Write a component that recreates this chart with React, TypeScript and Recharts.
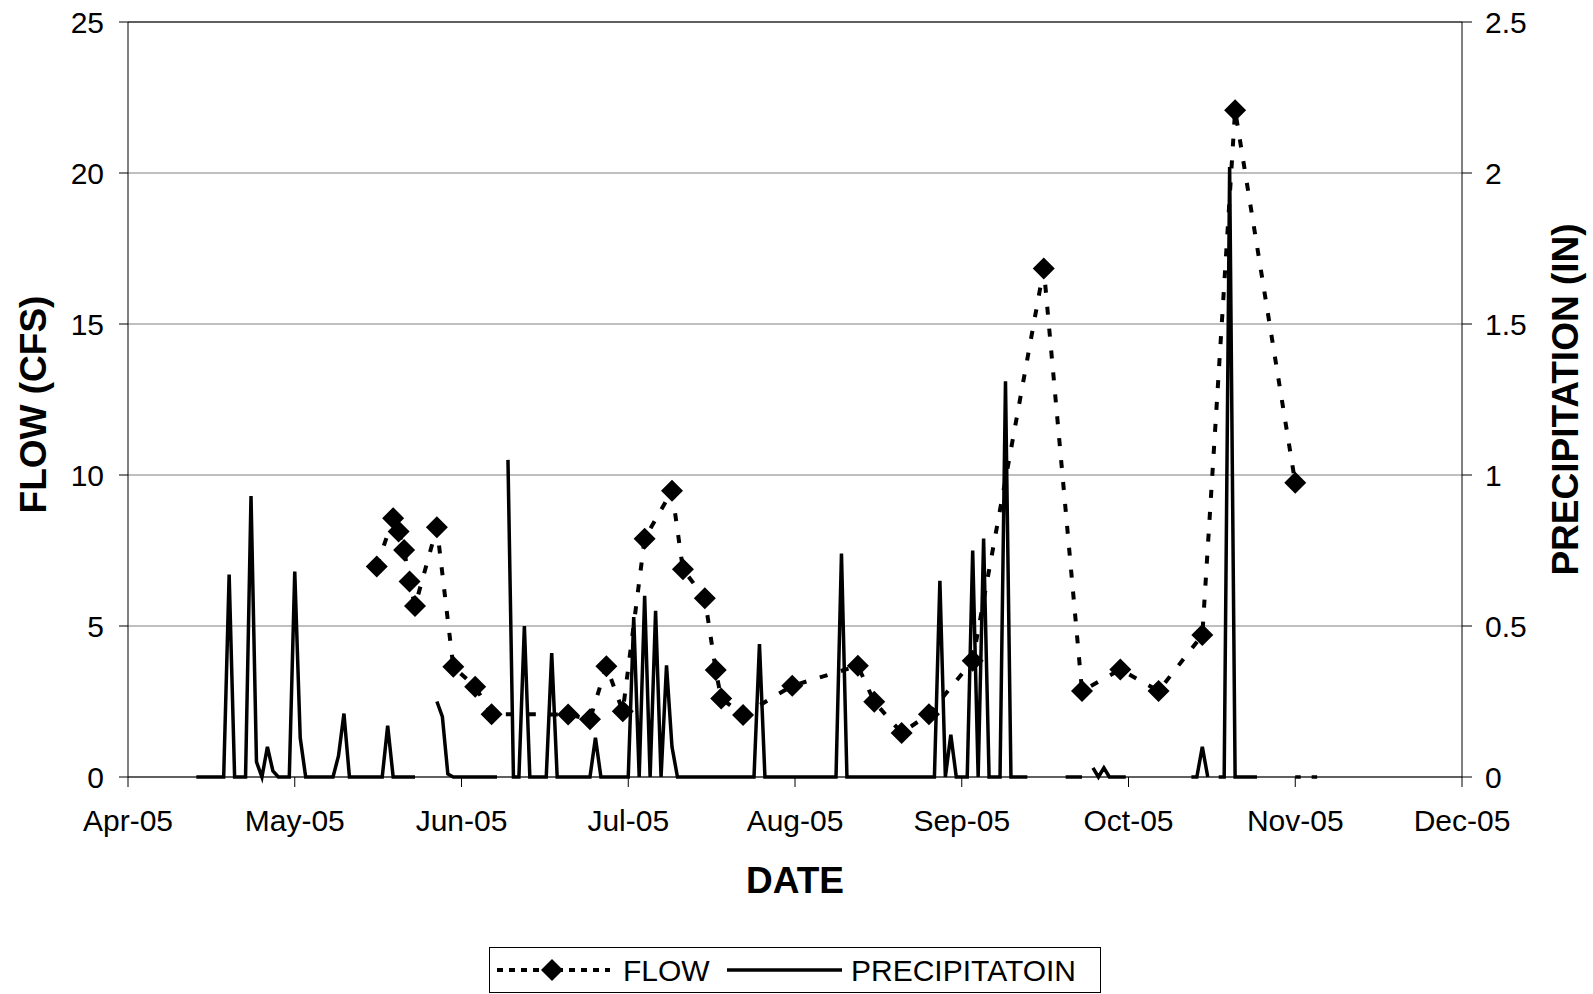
import React from 'react';
import { ComposedChart, Line, XAxis, YAxis, CartesianGrid, Legend, ReferenceLine, Label } from 'recharts';

const FONT = '"Liberation Sans", Arial, sans-serif';

// date axis labels, Apr-05 .. Dec-05 (evenly spaced ticks)
const monthLabels = ['Apr-05', 'May-05', 'Jun-05', 'Jul-05', 'Aug-05', 'Sep-05', 'Oct-05', 'Nov-05', 'Dec-05'];
const flowTicks = [0, 5, 10, 15, 20, 25];
const precipTicks = [0, 0.5, 1, 1.5, 2, 2.5];

// flow measurements (cfs)
const flowDates = [
  '2005-05-16', '2005-05-19', '2005-05-20', '2005-05-21', '2005-05-22', '2005-05-23', '2005-05-27',
  '2005-05-30', '2005-06-03', '2005-06-06', '2005-06-20', '2005-06-24', '2005-06-27', '2005-06-30',
  '2005-07-04', '2005-07-09', '2005-07-11', '2005-07-15', '2005-07-17', '2005-07-18', '2005-07-22',
  '2005-07-31', '2005-08-12', '2005-08-15', '2005-08-20', '2005-08-25', '2005-09-02', '2005-09-15',
  '2005-09-22', '2005-09-29', '2005-10-06', '2005-10-14', '2005-10-20', '2005-10-31',
];
const flowValues = [
  6.97, 8.57, 8.13, 7.52, 6.47, 5.66, 8.27,
  3.65, 2.99, 2.08, 2.07, 1.91, 3.67, 2.18,
  7.89, 9.48, 6.88, 5.92, 3.54, 2.6, 2.05,
  3.02, 3.68, 2.49, 1.46, 2.08, 3.85, 16.84,
  2.85, 3.56, 2.85, 4.7, 22.08, 9.74,
];

// daily precipitation (in), index 0 = 1st of month, null = no reading
const precipApr = [
  null, null, null, null, null, null, null, null, null, null, null, null,
  0, 0, 0, 0, 0, 0, 0.67, 0, 0, 0, 0.93, 0.05, 0, 0.1, 0.02, 0, 0, 0,
];
const precipMay = [
  0.68, 0.13, 0, 0, 0, 0, 0, 0, 0.07, 0.21, 0, 0, 0, 0, 0, 0, 0, 0.17, 0, 0, 0, 0, 0,
  null, null, null, 0.25, 0.2, 0.01, 0, 0,
];
const precipJun = [
  0, 0, 0, 0, 0, 0, 0, null, 1.05, 0, 0, 0.5, 0, 0, 0, 0, 0.41, 0, 0, 0, 0, 0, 0, 0,
  0.13, 0, 0, 0, 0, 0,
];
const precipJul = [
  0, 0.53, 0, 0.6, 0, 0.55, 0, 0.37, 0.1, 0, 0, 0, 0, 0, 0, 0, 0, 0, 0, 0, 0, 0, 0, 0,
  0.44, 0, 0, 0, 0, 0, 0,
];
const precipAug = [
  0, 0, 0, 0, 0, 0, 0, 0, 0.74, 0, 0, 0, 0, 0, 0, 0, 0, 0, 0, 0, 0, 0, 0, 0, 0, 0,
  0.65, 0, 0.14, 0, 0,
];
const precipSep = [
  0, 0.75, 0, 0.79, 0, 0, 0, 1.31, 0, 0, 0, 0, null, null, null, null, null, null,
  0, 0, 0, 0, null, 0.03, 0, 0.03, 0, 0, 0, 0,
];
const precipOct = [
  null, null, null, null, null, null, null, null, null, null, null,
  0, 0, 0.1, 0, null, 0, 0, 2.02, 0, 0, 0, 0, 0, null, null, null, null, null, null, 0,
];
const precipNov = [0, null, 0, 0];

const MS_DAY = 86400000;
const ORIGIN = Date.UTC(2005, 3, 1);
// daily readings sit in the middle of their day on the axis
const dayOf = (y: number, m: number, d: number) => (Date.UTC(y, m, d) - ORIGIN) / MS_DAY + 0.5;

const flowData = flowDates.map((s, i) => {
  const [y, m, d] = s.split('-').map(Number);
  return { day: dayOf(y, m - 1, d), flow: flowValues[i] };
});

const precipMonths: Array<[number, (number | null)[]]> = [
  [3, precipApr], [4, precipMay], [5, precipJun], [6, precipJul],
  [7, precipAug], [8, precipSep], [9, precipOct], [10, precipNov],
];
const precipData = precipMonths.flatMap(([m, vals]) =>
  vals.map((v, i) => ({ day: dayOf(2005, m, i + 1), precip: v }))
);

const AXIS_DAYS = 244;
const xTicks = monthLabels.map((_, i) => (i * AXIS_DAYS) / (monthLabels.length - 1));

const Diamond = (props: any) => {
  const { cx, cy, index } = props;
  if (cx == null || cy == null) return null;
  const r = 11;
  return (
    <polygon
      key={`d-${index}`}
      points={`${cx},${cy - r} ${cx + r},${cy} ${cx},${cy + r} ${cx - r},${cy}`}
      fill="#000"
    />
  );
};

const tickStyle = { fill: '#000', fontSize: 30, fontFamily: FONT };

const renderLegend = () => (
  <div
    style={{
      position: 'relative',
      marginLeft: 489,
      width: 612,
      height: 46,
      boxSizing: 'border-box',
      border: '1px solid #000',
      background: '#fff',
      fontFamily: FONT,
      fontSize: 30,
      color: '#000',
    }}
  >
    <svg width={115} height={44} style={{ position: 'absolute', left: 5, top: 0 }}>
      <line x1={2} y1={22} x2={115} y2={22} stroke="#000" strokeWidth={4} strokeDasharray="6 6" />
      <polygon points="57,11 68,22 57,33 46,22" fill="#000" />
    </svg>
    <span style={{ position: 'absolute', left: 133, top: 6, lineHeight: '34px' }}>FLOW</span>
    <svg width={115} height={44} style={{ position: 'absolute', left: 237, top: 0 }}>
      <line x1={0} y1={22} x2={115} y2={22} stroke="#000" strokeWidth={3.5} />
    </svg>
    <span style={{ position: 'absolute', left: 361, top: 6, lineHeight: '34px' }}>PRECIPITATOIN</span>
  </div>
);

export default function App() {
  return (
    <div style={{ position: 'absolute', left: 0, top: 0, width: 1593, height: 994, background: '#fff' }}>
      <ComposedChart width={1593} height={994} margin={{ top: 22, right: 0, bottom: 1, left: 0 }}>
        <CartesianGrid yAxisId="left" vertical={false} stroke="#808080" strokeWidth={1} />
        <XAxis
          dataKey="day"
          type="number"
          domain={[0, AXIS_DAYS]}
          ticks={xTicks}
          interval={0}
          tickFormatter={(v: number) => monthLabels[Math.round((v * (monthLabels.length - 1)) / AXIS_DAYS)]}
          height={170}
          tickSize={10}
          tickMargin={23}
          tick={tickStyle}
          axisLine={{ stroke: '#000' }}
          tickLine={{ stroke: '#000' }}
        >
          <Label
            content={(p: any) => (
              <text
                x={p.viewBox.x + p.viewBox.width / 2}
                y={p.viewBox.y + 116}
                textAnchor="middle"
                fontFamily={FONT}
                fontWeight="bold"
                fontSize={37}
                fill="#000"
              >
                DATE
              </text>
            )}
          />
        </XAxis>
        <YAxis
          yAxisId="left"
          domain={[0, 25]}
          ticks={flowTicks}
          interval={0}
          width={128}
          tickSize={9}
          tickMargin={15}
          tick={tickStyle}
          axisLine={{ stroke: '#000' }}
          tickLine={{ stroke: '#000' }}
        >
          <Label
            content={(p: any) => {
              const cx = p.viewBox.x + 33.5;
              const cy = p.viewBox.y + p.viewBox.height / 2 + 5;
              return (
                <text
                  x={cx}
                  y={cy}
                  transform={`rotate(-90, ${cx}, ${cy})`}
                  textAnchor="middle"
                  dominantBaseline="central"
                  fontFamily={FONT}
                  fontWeight="bold"
                  fontSize={37}
                  fill="#000"
                >
                  FLOW (CFS)
                </text>
              );
            }}
          />
        </YAxis>
        <YAxis
          yAxisId="right"
          orientation="right"
          domain={[0, 2.5]}
          ticks={precipTicks}
          interval={0}
          width={131}
          tickSize={10}
          tickMargin={13}
          tick={tickStyle}
          axisLine={{ stroke: '#000' }}
          tickLine={{ stroke: '#000' }}
        >
          <Label
            content={(p: any) => {
              const cx = p.viewBox.x + 103.5;
              const cy = p.viewBox.y + p.viewBox.height / 2;
              return (
                <text
                  x={cx}
                  y={cy}
                  transform={`rotate(-90, ${cx}, ${cy})`}
                  textAnchor="middle"
                  dominantBaseline="central"
                  fontFamily={FONT}
                  fontWeight="bold"
                  fontSize={37}
                  fill="#000"
                >
                  PRECIPITATION (IN)
                </text>
              );
            }}
          />
        </YAxis>
        <ReferenceLine yAxisId="left" y={25} stroke="#000" strokeWidth={1} />
        <Line
          data={flowData}
          dataKey="flow"
          name="FLOW"
          yAxisId="left"
          type="linear"
          stroke="#000"
          strokeWidth={4}
          strokeDasharray="8 14"
          dot={Diamond}
          activeDot={false}
          isAnimationActive={false}
        />
        <Line
          data={precipData}
          dataKey="precip"
          name="PRECIPITATOIN"
          yAxisId="right"
          type="linear"
          stroke="#000"
          strokeWidth={3.5}
          dot={false}
          activeDot={false}
          isAnimationActive={false}
        />
        <Legend verticalAlign="bottom" align="left" layout="horizontal" content={renderLegend} />
      </ComposedChart>
    </div>
  );
}
